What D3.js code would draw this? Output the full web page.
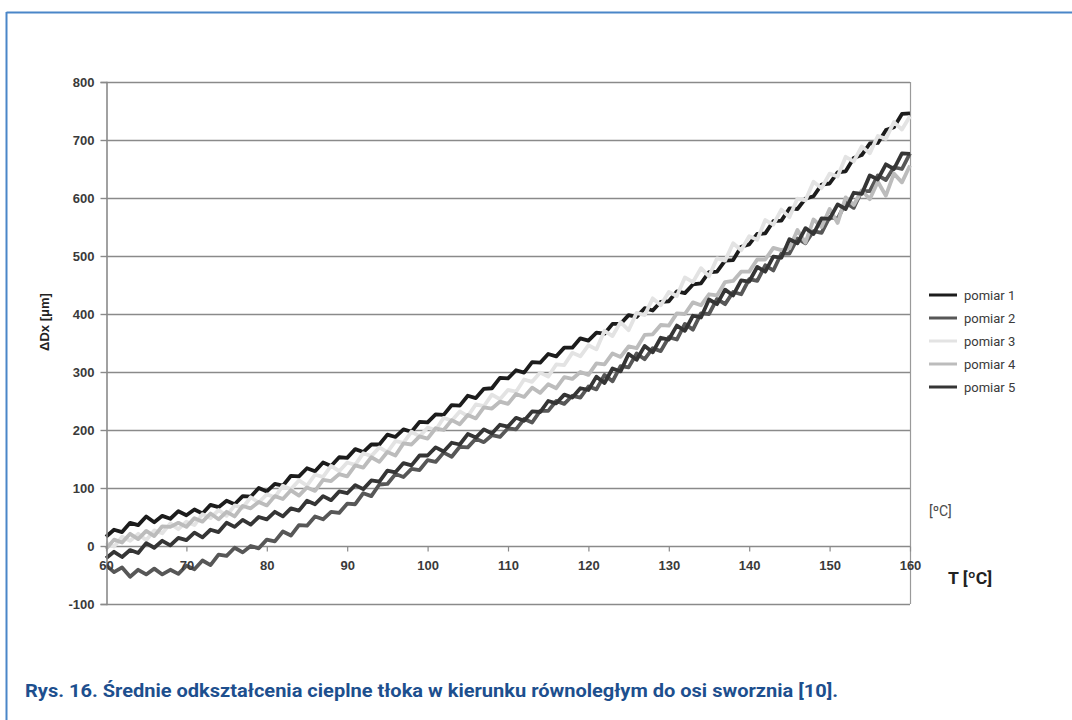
<!DOCTYPE html>
<html><head><meta charset="utf-8">
<script src="https://cdn.jsdelivr.net/npm/d3@7"></script>
<style>html,body{margin:0;padding:0;background:#fff;}svg{display:block;}</style>
</head><body>
<svg id="chart" width="1072" height="720"></svg>
<script>
// ---------- DATA ----------
const tempStart = 60, tempEnd = 160;            // °C, sampled every 1 °C
const xTicks = [60, 70, 80, 90, 100, 110, 120, 130, 140, 150, 160];
const yTicks = [-100, 0, 100, 200, 300, 400, 500, 600, 700, 800];
const seriesNames = ["pomiar 1", "pomiar 2", "pomiar 3", "pomiar 4", "pomiar 5"];
const seriesColors = ["#1c1c1c", "#575757", "#e3e3e3", "#bcbcbc", "#353535"];

const pomiar1 = [16,28,24,40,36,51,41,52,47,60, 53,63,56,71,67,78,72,86,85,100,
  94,107,104,121,120,134,129,144,138,153, 152,167,162,175,175,192,188,201,197,214,
  213,227,226,243,242,259,255,271,272,290, 289,303,299,317,316,331,327,342,342,358,
  354,368,366,383,383,398,395,410,406,421, 422,439,436,451,453,472,473,492,493,516,
  520,538,539,560,561,582,581,599,603,623, 625,644,646,669,674,694,695,717,722,745, 746];
const pomiar2 = [-33,-45,-37,-53,-41,-49,-39,-49,-41,-48, -34,-40,-25,-33,-15,-17,-3,-11,0,-4,
  11,8,25,18,36,35,51,46,59,57, 73,72,91,86,106,107,124,119,133,131,
  148,145,161,154,171,170,185,179,191,188, 203,201,219,213,233,233,250,245,259,256,
  275,270,295,284,310,308,332,322,341,336, 360,356,383,373,401,400,426,417,438,434,
  460,457,484,475,504,504,530,522,543,540, 567,564,592,583,612,612,639,631,653,650, 677];
const pomiar3 = [6,-1,16,9,21,10,27,22,39,29, 42,36,55,48,62,52,70,66,84,75,
  89,84,104,98,113,104,123,119,138,129, 144,140,160,155,170,162,181,178,197,189,
  204,200,221,216,232,224,244,241,261,253, 269,266,287,283,299,292,313,312,333,327,
  346,339,371,362,386,372,402,398,427,415, 438,431,463,455,479,465,496,492,522,510,
  534,528,562,554,580,567,599,596,628,617, 642,637,671,663,689,677,707,702,731,718, 741];
const pomiar4 = [-5,11,6,21,12,26,17,34,33,40, 33,48,42,56,46,59,51,69,65,76,
  70,86,81,96,87,101,95,114,112,124, 120,139,135,153,145,162,156,177,175,189,
  185,203,200,217,210,226,220,239,237,249, 245,262,257,273,264,279,272,291,288,300,
  295,315,313,332,326,344,341,364,365,381, 380,401,400,420,415,434,432,455,457,473,
  473,494,494,514,510,513,545,523,563,550, 581,557,601,588,613,598,628,604,642,627, 656];
const pomiar5 = [-21,-10,-19,-7,-12,5,-3,9,1,14, 10,23,15,28,24,40,33,45,37,50,
  46,59,51,65,61,78,72,86,79,94, 91,105,98,113,111,130,127,143,139,156,
  156,170,163,178,175,193,187,201,194,209, 206,221,216,232,231,250,246,261,256,272,
  269,292,281,306,301,331,321,345,334,359, 356,380,371,397,394,425,417,442,432,458,
  456,481,473,499,497,529,522,548,538,565, 564,589,581,609,607,639,632,658,650,677, 676];

const seriesValues = [pomiar1, pomiar2, pomiar3, pomiar4, pomiar5];
const temps = d3.range(tempStart, tempEnd + 1);

// ---------- LAYOUT ----------
const svg = d3.select("#chart");
const W = 1072, H = 720;
const plot = {left: 106, right: 910, top: 82, bottom: 604};

svg.append("rect").attr("width", W).attr("height", H).attr("fill", "#fff");

// frame (top + left blue rules)
svg.append("line").attr("x1", 6.5).attr("x2", W).attr("y1", 12.5).attr("y2", 12.5)
  .attr("stroke", "#4a86c8").attr("stroke-width", 2);
svg.append("line").attr("x1", 6.5).attr("x2", 6.5).attr("y1", 12).attr("y2", H)
  .attr("stroke", "#4a86c8").attr("stroke-width", 2);

const x = d3.scaleLinear().domain([60, 160]).range([plot.left, plot.right]);
const y = d3.scaleLinear().domain([-100, 800]).range([plot.bottom, plot.top]);

// horizontal gridlines
svg.append("g").selectAll("line").data(yTicks).join("line")
  .attr("x1", plot.left).attr("x2", plot.right)
  .attr("y1", d => Math.round(y(d)) + 0.5).attr("y2", d => Math.round(y(d)) + 0.5)
  .attr("stroke", "#8a8a8a").attr("stroke-width", 1.4);

// right border
svg.append("line").attr("x1", plot.right + 0.5).attr("x2", plot.right + 0.5)
  .attr("y1", plot.top).attr("y2", plot.bottom)
  .attr("stroke", "#9a9a9a").attr("stroke-width", 1.2);

// series
const line = d3.line().x((d, i) => x(temps[i])).y(d => y(d)).curve(d3.curveLinear);
const gSeries = svg.append("g");
seriesValues.forEach((vals, k) => {
  gSeries.append("path").datum(vals)
    .attr("d", line)
    .attr("fill", "none")
    .attr("stroke", seriesColors[k])
    .attr("stroke-width", 3.8)
    .attr("stroke-linejoin", "round");
});

// y axis
const fmt = d => String(d);
const yAxis = d3.axisLeft(y).tickValues(yTicks).tickFormat(fmt).tickSize(6).tickPadding(6);
const gy = svg.append("g").attr("transform", `translate(${plot.left + 0.5},0)`).call(yAxis);
gy.select(".domain").attr("stroke", "#8a8a8a").attr("stroke-width", 1.6);
gy.selectAll(".tick line").attr("stroke", "#8a8a8a").attr("stroke-width", 1.4);
gy.selectAll(".tick text").attr("fill", "#3a3a3a")
  .style("font-family", "'Liberation Sans', Arial, sans-serif")
  .style("font-size", "13px").style("font-weight", "bold");

// x axis sits on the zero line
const xAxis = d3.axisBottom(x).tickValues(xTicks).tickFormat(fmt).tickSize(5).tickPadding(9);
const gx = svg.append("g").attr("transform", `translate(0,${Math.round(y(0)) + 0.5})`).call(xAxis);
gx.select(".domain").remove();
gx.selectAll(".tick line").attr("stroke", "#8a8a8a").attr("stroke-width", 1.2);
gx.selectAll(".tick text").attr("fill", "#3a3a3a")
  .style("font-family", "'Liberation Sans', Arial, sans-serif")
  .style("font-size", "13px").style("font-weight", "bold");

// y-axis title
svg.append("text").attr("transform", "translate(49,322) rotate(-90)")
  .attr("text-anchor", "middle")
  .style("font-family", "'Liberation Sans', Arial, sans-serif")
  .style("font-size", "13px").style("font-weight", "bold").attr("fill", "#222")
  .text("ΔDx [μm]");

// legend
const legend = svg.append("g").attr("transform", "translate(929,295)");
seriesNames.forEach((name, i) => {
  const row = legend.append("g").attr("transform", `translate(0,${i * 23})`);
  row.append("line").attr("x1", 0).attr("x2", 28).attr("y1", 0).attr("y2", 0)
    .attr("stroke", seriesColors[i]).attr("stroke-width", 3);
  row.append("text").attr("x", 35).attr("y", 4.5)
    .style("font-family", "Roboto, 'Liberation Sans', sans-serif")
    .style("font-size", "13px").attr("fill", "#3a3a3a").text(name);
});

// unit annotations
svg.append("text").attr("x", 929).attr("y", 516)
  .style("font-family", "Roboto, 'Liberation Sans', sans-serif")
  .style("font-size", "14px").attr("fill", "#4a4a4a").text("[ºC]");
svg.append("text").attr("x", 948).attr("y", 584)
  .attr("textLength", 44).attr("lengthAdjust", "spacingAndGlyphs")
  .style("font-family", "Roboto, 'Liberation Sans', sans-serif")
  .style("font-size", "17px").style("font-weight", "bold").attr("fill", "#222")
  .text("T [ºC]");

// caption
svg.append("text").attr("x", 25).attr("y", 697)
  .attr("textLength", 813).attr("lengthAdjust", "spacingAndGlyphs")
  .style("font-family", "Roboto, 'Liberation Sans', sans-serif")
  .style("font-size", "18.5px").style("font-weight", "bold").attr("fill", "#1d4f8e")
  .text("Rys. 16. Średnie odkształcenia cieplne tłoka w kierunku równoległym do osi sworznia [10].");
</script>
</body></html>
